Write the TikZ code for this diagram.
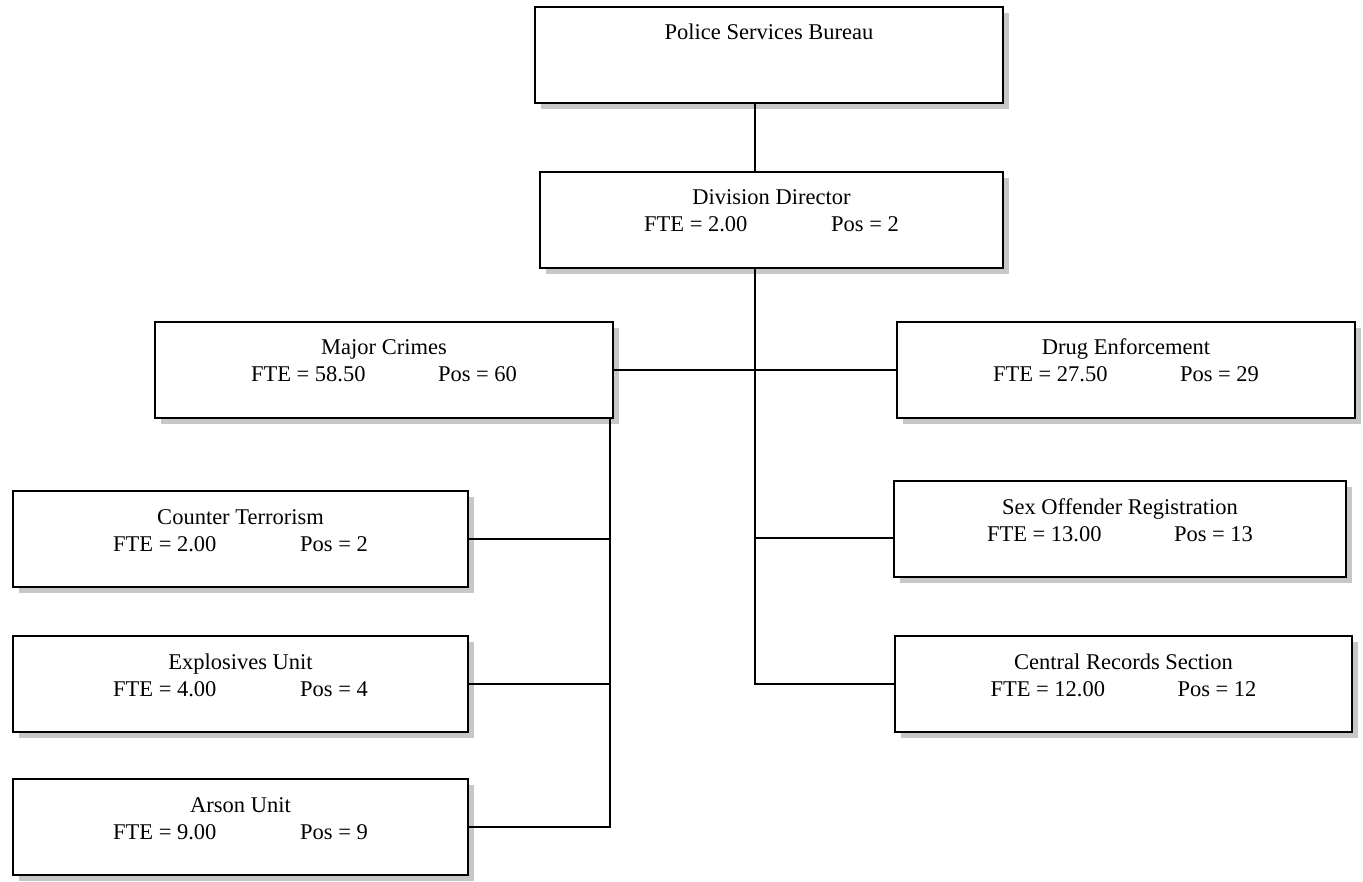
\documentclass[tikz,border=0pt]{standalone}
\usepackage{fontspec}
\setmainfont{Liberation Serif}
\usetikzlibrary{shadows}
\tikzset{
  orgbox/.style={draw=black, line width=1.5pt, fill=white, inner sep=0pt, outer sep=0pt,
    minimum height=96pt,
    drop shadow={shadow xshift=6pt, shadow yshift=-6pt, fill=black!22, opacity=1}},
  ttl/.style={anchor=base, inner sep=0pt, font=\fontsize{22.5}{27}\selectfont},
  conn/.style={draw=black, line width=1.5pt}
}
\newcommand\orgunit[7]{%
  \node[orgbox, minimum width=#4pt] (#1) at (#2,#3) {};
  \node[ttl] (#1-t) at ([yshift=-33pt]#1.north) {#5};
  \node[ttl] (#1-f) at ([yshift=-60pt]#1.north) {\makebox[187pt][l]{FTE = #6}Pos = #7};
}
\begin{document}
\begin{tikzpicture}[x=1pt,y=-1pt]
\useasboundingbox[fill=white] (0,0) rectangle (1363,882);
% top box
\node[orgbox, minimum width=468pt] (psb) at (769,55) {};
\node[ttl] (psb-t) at ([yshift=-33pt]psb.north) {Police Services Bureau};
% units
\orgunit{dd}{771.5}{220}{463}{Division Director}{2.00}{2}
\orgunit{mc}{384}{370}{458}{Major Crimes}{58.50}{60}
\orgunit{de}{1126}{370}{458}{Drug Enforcement}{27.50}{29}
\orgunit{ct}{240.5}{539}{455}{Counter Terrorism}{2.00}{2}
\orgunit{ex}{240.5}{684}{455}{Explosives Unit}{4.00}{4}
\orgunit{ar}{240.5}{827}{455}{Arson Unit}{9.00}{9}
\orgunit{sor}{1120}{529}{452}{Sex Offender Registration}{13.00}{13}
\orgunit{crs}{1123.5}{684}{457}{Central Records Section}{12.00}{12}
% spines
\coordinate (sp) at (755,0);
\coordinate (mcx) at (610,0);
\coordinate (sorb) at ([yshift=-9pt]sor.west);
% connectors
\draw[conn] (psb.south -| sp) -- (dd.north -| sp);
\draw[conn] (dd.south -| sp) -- (sp |- crs.west) -- (crs.west);
\draw[conn] (mc.east) -- (de.west);
\draw[conn] (sp |- sorb) -- (sorb);
\draw[conn] (mc.south -| mcx) -- (mcx |- ar.east) -- (ar.east);
\draw[conn] (ct.east) -- (mcx |- ct.east);
\draw[conn] (ex.east) -- (mcx |- ex.east);
\end{tikzpicture}
\end{document}
